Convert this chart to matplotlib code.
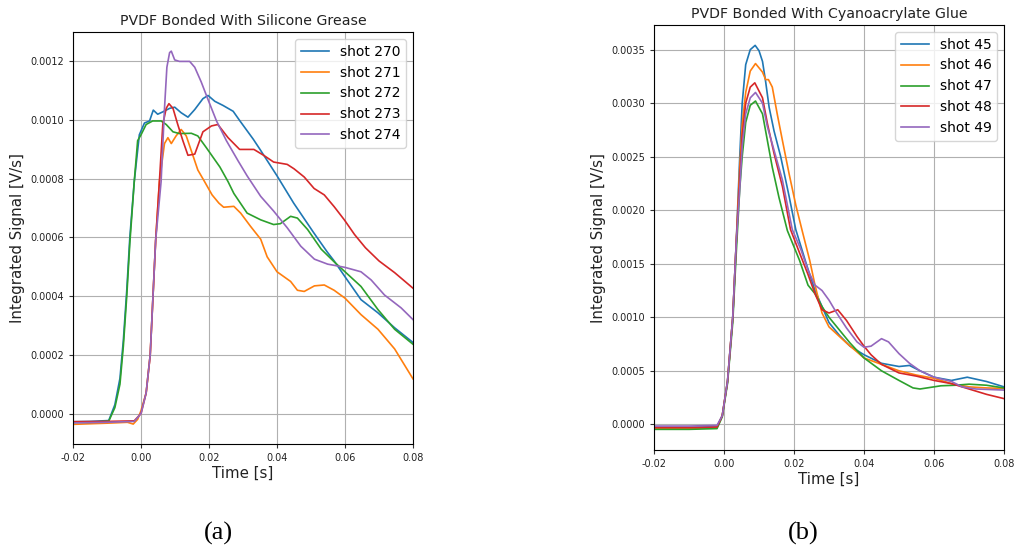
import matplotlib
matplotlib.use("Agg")
import matplotlib.pyplot as plt
from matplotlib.ticker import FormatStrFormatter

# ---------------- Data: (a) PVDF bonded with silicone grease ----------------
t_270 = [-0.02, -0.015, -0.0095, -0.0077, -0.0062, -0.0052, -0.0042, -0.0033, -0.002, -0.0005,
         0.001, 0.0025, 0.0036, 0.0049, 0.0064, 0.0084, 0.0099, 0.0118, 0.0138, 0.0158, 0.0182,
         0.0197, 0.0217, 0.0241, 0.0271, 0.0291, 0.033, 0.035, 0.040, 0.0449, 0.0508, 0.0548,
         0.0568, 0.060, 0.0647, 0.0697, 0.0746, 0.080]
v_270 = [-0.000028, -0.000027, -0.000024, 0.00003, 0.00012, 0.00025, 0.00042, 0.0006, 0.00079,
         0.00095, 0.00099, 0.000997, 0.001034, 0.00102, 0.001028, 0.00104, 0.001044, 0.001025,
         0.00101, 0.001036, 0.001073, 0.001084, 0.001064, 0.00105, 0.00103, 0.000997, 0.000935,
         0.0009, 0.00081, 0.000717, 0.000616, 0.00055, 0.00052, 0.000466, 0.000388, 0.000343,
         0.000292, 0.000242]

t_271 = [-0.02, -0.01, -0.004, -0.0023, -0.001, 0.0, 0.0015, 0.0027, 0.0036, 0.0043, 0.0054,
         0.0069, 0.0079, 0.0089, 0.0103, 0.0118, 0.0133, 0.0148, 0.0167, 0.0187, 0.0209, 0.0229,
         0.0243, 0.0273, 0.0293, 0.0322, 0.0352, 0.0371, 0.040, 0.044, 0.046, 0.048, 0.051,
         0.0539, 0.0568, 0.060, 0.0647, 0.0697, 0.0746, 0.080]
v_271 = [-0.000037, -0.000033, -0.00003, -0.000036, -0.00002, 0.00001, 0.00007, 0.0002, 0.00042,
         0.00059, 0.00079, 0.00092, 0.00094, 0.00092, 0.000946, 0.000968, 0.000946, 0.000895,
         0.00083, 0.00079, 0.000745, 0.000717, 0.000703, 0.000706, 0.000683, 0.000638, 0.000594,
         0.000534, 0.000483, 0.00045, 0.00042, 0.000416, 0.000435, 0.000438, 0.00042, 0.000393,
         0.000337, 0.000287, 0.00022, 0.000118]

t_272 = [-0.02, -0.015, -0.0095, -0.0077, -0.0062, -0.0052, -0.0042, -0.0033, -0.002, -0.001,
         0.0, 0.0015, 0.0034, 0.0059, 0.0074, 0.0094, 0.0113, 0.0148, 0.0167, 0.0192, 0.0232,
         0.0256, 0.0273, 0.0312, 0.0352, 0.039, 0.041, 0.044, 0.046, 0.049, 0.053, 0.0568,
         0.060, 0.0647, 0.0697, 0.0746, 0.080]
v_272 = [-0.00003, -0.00003, -0.000026, 0.00002, 0.0001, 0.00023, 0.0004, 0.00058, 0.00079,
         0.00093, 0.00095, 0.000985, 0.000997, 0.000997, 0.000985, 0.00096, 0.000954, 0.000955,
         0.000946, 0.000906, 0.00084, 0.00079, 0.00075, 0.000683, 0.00066, 0.000644, 0.000647,
         0.000672, 0.000666, 0.000627, 0.00056, 0.000517, 0.000483, 0.000433, 0.000354,
         0.000287, 0.000236]

t_273 = [-0.02, -0.01, -0.002, 0.0, 0.0015, 0.0027, 0.0036, 0.0043, 0.0054, 0.0064, 0.0074,
         0.0082, 0.0094, 0.0108, 0.0123, 0.0138, 0.0158, 0.0182, 0.0207, 0.0226, 0.0256, 0.029,
         0.0332, 0.0362, 0.039, 0.043, 0.045, 0.048, 0.0509, 0.0539, 0.0568, 0.0598, 0.0628,
         0.066, 0.070, 0.0746, 0.080]
v_273 = [-0.000028, -0.000027, -0.000025, 0.0, 0.00007, 0.0002, 0.00042, 0.00059, 0.00079,
         0.000985, 0.00104, 0.001056, 0.00104, 0.000985, 0.00093, 0.00088, 0.000884, 0.00096,
         0.00098, 0.000985, 0.00094, 0.0009, 0.0009, 0.000879, 0.000857, 0.000849, 0.000834,
         0.000806, 0.000767, 0.000745, 0.000705, 0.00066, 0.00061, 0.000565, 0.00052, 0.00048,
         0.000427]

t_274 = [-0.02, -0.01, -0.002, 0.0, 0.0015, 0.0027, 0.0036, 0.0043, 0.0059, 0.0069, 0.0076,
         0.0084, 0.0089, 0.0099, 0.0113, 0.0133, 0.0143, 0.0158, 0.0177, 0.0197, 0.0222, 0.0251,
         0.0286, 0.0312, 0.0352, 0.039, 0.043, 0.047, 0.051, 0.0549, 0.0568, 0.060, 0.0647,
         0.0677, 0.0716, 0.0765, 0.080]
v_274 = [-0.000032, -0.00003, -0.000027, 0.0, 0.00007, 0.0002, 0.00042, 0.00059, 0.00079,
         0.00104, 0.00118, 0.00123, 0.001235, 0.001205, 0.0012, 0.0012, 0.0012, 0.00118, 0.00113,
         0.00107, 0.000997, 0.00093, 0.00086, 0.00081, 0.00074, 0.00069, 0.000633, 0.00057,
         0.000526, 0.000509, 0.000505, 0.000498, 0.000483, 0.000455, 0.000404, 0.00036, 0.00032]

# ---------------- Data: (b) PVDF bonded with cyanoacrylate glue ----------------
t_45 = [-0.02, -0.01, -0.002, -0.0005, 0.001, 0.0025, 0.0035, 0.0045, 0.0052, 0.0062, 0.0075,
        0.0089, 0.010, 0.011, 0.0119, 0.0129, 0.0143, 0.0162, 0.0186, 0.0205, 0.0235, 0.026,
        0.028, 0.030, 0.033, 0.036, 0.040, 0.045, 0.050, 0.053, 0.056, 0.060, 0.065, 0.0695,
        0.075, 0.080]
v_45 = [-0.00003, -0.00003, -0.00002, 0.00008, 0.0004, 0.001, 0.0017, 0.0025, 0.003, 0.00336,
        0.0035, 0.00354, 0.00349, 0.00339, 0.0032, 0.00296, 0.00274, 0.0025, 0.00213, 0.00182,
        0.0015, 0.00125, 0.0011, 0.00095, 0.00083, 0.00073, 0.00065, 0.00057, 0.00054, 0.00055,
        0.0005, 0.00044, 0.00041, 0.00044, 0.0004, 0.00035]

t_46 = [-0.02, -0.01, -0.002, -0.0005, 0.001, 0.0025, 0.0035, 0.0045, 0.0052, 0.0062, 0.0075,
        0.009, 0.011, 0.0119, 0.0127, 0.0138, 0.0152, 0.0167, 0.0186, 0.0205, 0.0224, 0.0245,
        0.026, 0.028, 0.030, 0.035, 0.040, 0.045, 0.050, 0.055, 0.060, 0.065, 0.070, 0.075, 0.080]
v_46 = [-0.00004, -0.00004, -0.00003, 0.00008, 0.0004, 0.001, 0.0017, 0.0024, 0.0028, 0.0031,
        0.0033, 0.00337, 0.00329, 0.00322, 0.00322, 0.00315, 0.0029, 0.00265, 0.00234, 0.00205,
        0.0018, 0.00153, 0.0013, 0.00104, 0.00091, 0.00076, 0.00062, 0.00056, 0.0005, 0.00046,
        0.00043, 0.00038, 0.00035, 0.00034, 0.000335]

t_47 = [-0.02, -0.01, -0.002, -0.0005, 0.001, 0.0025, 0.0035, 0.0045, 0.0052, 0.0062, 0.0075,
        0.009, 0.011, 0.0124, 0.0138, 0.0157, 0.0181, 0.0216, 0.024, 0.026, 0.028, 0.030, 0.033,
        0.036, 0.040, 0.045, 0.050, 0.054, 0.056, 0.058, 0.062, 0.066, 0.070, 0.075, 0.080]
v_47 = [-0.000047, -0.000047, -0.00004, 0.00007, 0.00038, 0.00095, 0.0016, 0.0022, 0.0025,
        0.00282, 0.00298, 0.00302, 0.0029, 0.00265, 0.0024, 0.00212, 0.00181, 0.00153, 0.0013,
        0.00122, 0.0011, 0.001, 0.00088, 0.00076, 0.00062, 0.0005, 0.00041, 0.00034, 0.00033,
        0.00034, 0.00036, 0.000365, 0.000375, 0.000365, 0.00034]

t_48 = [-0.02, -0.01, -0.002, -0.0005, 0.001, 0.0025, 0.0035, 0.0045, 0.0052, 0.0062, 0.0075,
        0.0088, 0.011, 0.0124, 0.0143, 0.0167, 0.019, 0.0216, 0.024, 0.026, 0.028, 0.030, 0.0325,
        0.035, 0.038, 0.040, 0.042, 0.045, 0.050, 0.055, 0.060, 0.065, 0.070, 0.075, 0.080]
v_48 = [-0.00003, -0.00003, -0.000025, 0.00008, 0.0004, 0.001, 0.0017, 0.0023, 0.0027, 0.0030,
        0.00315, 0.00319, 0.00305, 0.00281, 0.00253, 0.00222, 0.00182, 0.0016, 0.0014, 0.00122,
        0.00107, 0.00104, 0.00107, 0.00097, 0.00082, 0.00073, 0.00065, 0.00056, 0.00048, 0.00045,
        0.00041, 0.00038, 0.00033, 0.00028, 0.00024]

t_49 = [-0.02, -0.01, -0.002, -0.0005, 0.001, 0.0025, 0.0035, 0.0045, 0.0052, 0.0062, 0.0075,
        0.009, 0.011, 0.0124, 0.0143, 0.0167, 0.0195, 0.022, 0.024, 0.026, 0.028, 0.030, 0.032,
        0.035, 0.038, 0.040, 0.042, 0.045, 0.047, 0.050, 0.053, 0.056, 0.060, 0.065, 0.068,
        0.072, 0.080]
v_49 = [-0.000016, -0.000016, -0.00001, 0.00008, 0.0004, 0.001, 0.0017, 0.0022, 0.0026, 0.0029,
        0.00305, 0.0031, 0.003, 0.00278, 0.00256, 0.00228, 0.00182, 0.00163, 0.00144, 0.0013,
        0.00125, 0.00116, 0.00105, 0.0009, 0.00077, 0.00072, 0.00073, 0.0008, 0.00077, 0.00066,
        0.00057, 0.0005, 0.00044, 0.0004, 0.00035, 0.00033, 0.00032]

labels_a = ["shot 270", "shot 271", "shot 272", "shot 273", "shot 274"]
labels_b = ["shot 45", "shot 46", "shot 47", "shot 48", "shot 49"]
series_a = [(t_270, v_270), (t_271, v_271), (t_272, v_272), (t_273, v_273), (t_274, v_274)]
series_b = [(t_45, v_45), (t_46, v_46), (t_47, v_47), (t_48, v_48), (t_49, v_49)]
xticks = [-0.02, 0.0, 0.02, 0.04, 0.06, 0.08]
yticks_a = [0.0, 0.0002, 0.0004, 0.0006, 0.0008, 0.0010, 0.0012]
yticks_b = [0.0, 0.0005, 0.0010, 0.0015, 0.0020, 0.0025, 0.0030, 0.0035]

colors = ["#1f77b4", "#ff7f0e", "#2ca02c", "#d62728", "#9467bd"]

fig = plt.figure(figsize=(10.16, 5.5), dpi=100)
ax_a = fig.add_axes([0.0719, 0.1927, 0.3346, 0.749])
ax_b = fig.add_axes([0.6437, 0.1818, 0.3445, 0.7727])


def draw(ax, series, labels, yticks, title):
    for (t, v), lab, c in zip(series, labels, colors):
        ax.plot(t, v, color=c, lw=1.2, label=lab, solid_joinstyle="round")
    ax.set_xlim(-0.02, 0.08)
    ax.set_xticks(xticks)
    ax.set_yticks(yticks)
    ax.xaxis.set_major_formatter(FormatStrFormatter("%.2f"))
    ax.yaxis.set_major_formatter(FormatStrFormatter("%.4f"))
    ax.tick_params(labelsize=7, colors="#333333", labelcolor="#222222", length=3)
    ax.grid(True, color="#b0b0b0", lw=0.8)
    ax.set_xlabel("Time [s]", fontsize=10.8, color="#222222", labelpad=2)
    ax.set_ylabel("Integrated Signal [V/s]", fontsize=10.8, color="#222222")
    ax.set_title(title, fontsize=10.2, color="#222222", pad=5)
    ax.legend(loc="upper right", fontsize=10)


draw(ax_a, series_a, labels_a, yticks_a, "PVDF Bonded With Silicone Grease")
draw(ax_b, series_b, labels_b, yticks_b, "PVDF Bonded With Cyanoacrylate Glue")
ax_a.set_ylim(-0.000104, 0.0013)
ax_b.set_ylim(-0.00024, 0.00373)

fig.text(218 / 1016, 1 - 533 / 550, "(a)", fontsize=19, family="Liberation Serif",
         ha="center", va="center")
fig.text(803 / 1016, 1 - 533 / 550, "(b)", fontsize=19, family="Liberation Serif",
         ha="center", va="center")

fig.savefig("out.png", dpi=100)
